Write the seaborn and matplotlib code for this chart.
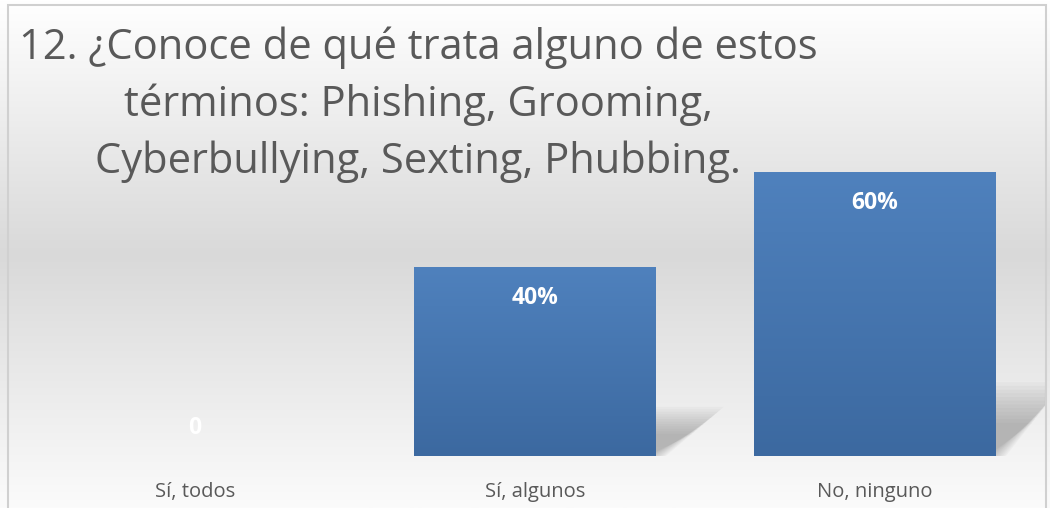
import matplotlib
matplotlib.use("Agg")
import matplotlib.pyplot as plt
from matplotlib.patches import Polygon, Rectangle
from matplotlib.colors import LinearSegmentedColormap
import numpy as np
import seaborn as sns

sns.set_style("white")
plt.rcParams["font.family"] = ["Open Sans", "DejaVu Sans"]

categories = ["Sí, todos", "Sí, algunos", "No, ninguno"]
values = [0.0, 0.40, 0.60]
labels = ["0", "40%", "60%"]
title = ("12. ¿Conoce de qué trata alguno de estos\n"
         "términos: Phishing, Grooming,\n"
         "Cyberbullying, Sexting, Phubbing.")

fig = plt.figure(figsize=(10.5, 5.08), dpi=100)

# background gradient (white -> light gray -> white)
bg = fig.add_axes([0, 0, 1, 1], zorder=-10)
bg_cmap = LinearSegmentedColormap.from_list(
    "bg", [(0, "#ffffff"), (0.5, "#d9d9d9"), (1, "#fbfbfb")])
grad = np.linspace(0, 1, 256).reshape(-1, 1)
bg.imshow(grad, aspect="auto", cmap=bg_cmap, extent=[0, 1, 0, 1], origin="upper")
bg.add_patch(Rectangle((8 / 1050, -0.01), 1038 / 1050, 1.01 - 5 / 508,
                       fill=False, edgecolor="#d0d0d0", linewidth=1.5))
bg.set_xlim(0, 1)
bg.set_ylim(0, 1)
bg.axis("off")

ax = fig.add_axes([25 / 1050, 52 / 508, 1020 / 1050, 331 / 508])
ax.patch.set_alpha(0)
sns.barplot(x=categories, y=values, color="#4a7ab5", width=0.71,
            saturation=1, linewidth=0, edgecolor="none", ax=ax, zorder=3)
ax.set_ylim(0, 0.7)
ax.set_xlim(-0.5, 2.5)

bar_cmap = LinearSegmentedColormap.from_list("bar", ["#3c69a0", "#4f81bd"])
for p in ax.patches:
    x0, w, h = p.get_x(), p.get_width(), p.get_height()
    if h <= 0:
        continue
    # perspective shadow behind the bar
    sh = 0.26 * h
    dx = 0.2
    for k in range(12):
        s = k / 12
        poly = Polygon([(x0 + w * 0.3, 0), (x0 + w + 0.03 - s * 0.06, 0),
                        (x0 + w + dx - s * 0.1, sh * (1 - s * 0.6)),
                        (x0 + w * 0.3 + dx, sh * (1 - s * 0.6))],
                       closed=True, facecolor="#7a7a7a", alpha=0.05,
                       edgecolor="none", zorder=2)
        ax.add_patch(poly)
    im = ax.imshow(np.linspace(0, 1, 100).reshape(-1, 1), cmap=bar_cmap,
                   aspect="auto", extent=[x0, x0 + w, 0, h], origin="lower",
                   zorder=3.5)
    im.set_clip_path(p)
ax.set_xlim(-0.5, 2.5)
ax.set_ylim(0, 0.7)

for i, (v, lab) in enumerate(zip(values, labels)):
    off = -31 if v > 0 else 28
    ax.annotate(lab, (i, v), xytext=(0, off), textcoords="offset pixels",
                ha="center", va="center", color="white", fontsize=16.5,
                fontweight="bold", zorder=5)

ax.set_yticks([])
ax.tick_params(axis="x", length=0, pad=19, labelsize=14.5, labelcolor="#595959")
for s in ax.spines.values():
    s.set_visible(False)
ax.set_xlabel("")
ax.set_ylabel("")

fig.text(418 / 1050, 1 - 105 / 508, title, ha="center", va="center",
         multialignment="center", fontsize=30, color="#595959",
         linespacing=1.44)

fig.savefig("out.png", dpi=100)
